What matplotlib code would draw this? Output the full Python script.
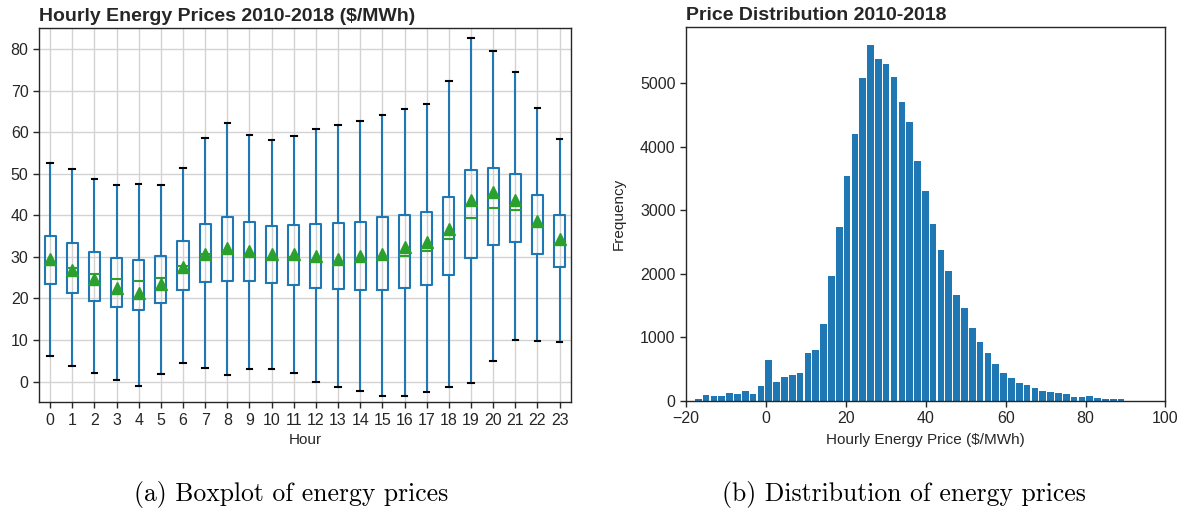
import numpy as np
import matplotlib
matplotlib.use("Agg")
import matplotlib.pyplot as plt

# ---------------- data ----------------
hours = list(range(24))
q1 = [23.4, 21.4, 19.5, 18.0, 17.1, 18.9, 22.1, 24.0, 24.3, 24.1, 23.7, 23.3,
      22.5, 22.2, 22.1, 22.1, 22.5, 23.3, 25.7, 29.7, 32.9, 33.5, 30.7, 27.6]
med = [28.1, 27.3, 25.9, 24.6, 24.1, 25.0, 27.8, 30.7, 31.3, 30.5, 29.7, 29.9,
       29.3, 28.7, 29.1, 29.9, 30.3, 31.3, 34.3, 39.3, 41.8, 41.2, 37.3, 33.1]
q3 = [35.1, 33.3, 31.1, 29.8, 29.2, 30.3, 33.7, 37.9, 39.5, 38.3, 37.5, 37.7,
      37.9, 38.1, 38.5, 39.5, 40.0, 40.9, 44.4, 50.9, 51.5, 50.0, 44.8, 40.0]
whis_lo = [6.2, 3.7, 2.1, 0.4, -1.1, 1.8, 4.5, 3.3, 1.6, 2.9, 3.1, 2.0,
           -0.2, -1.3, -2.2, -3.4, -3.4, -2.6, -1.4, -0.3, 5.0, 9.9, 9.8, 9.6]
whis_hi = [52.5, 51.2, 48.7, 47.4, 47.5, 47.2, 51.4, 58.7, 62.2, 59.3, 58.1, 59.1,
           60.7, 61.8, 62.8, 64.2, 65.6, 66.9, 72.3, 82.6, 79.6, 74.4, 65.9, 58.4]
means = [29.4, 26.9, 24.6, 22.6, 21.4, 23.4, 27.6, 30.6, 32.1, 31.5, 30.8, 30.6,
         30.2, 29.6, 30.1, 30.7, 32.3, 33.5, 36.6, 43.7, 45.5, 43.7, 38.6, 34.3]

hist_first_edge = -17.92
hist_bin_width = 1.96
hist_counts = [26, 90, 70, 80, 120, 105, 160, 110, 230,
               640, 290, 380, 400, 430, 750, 805, 1205, 1963, 2742,
               3532, 4195, 5084, 5600, 5374, 5300, 5095, 4700, 4384, 3774, 3300,
               2784, 2379, 2037, 1663, 1453, 1142, 926, 747, 579, 437, 353, 274,
               242, 200, 153, 132, 116, 105, 63, 58, 68, 37, 32, 21, 21]

# ---------------- style ----------------
TXT = "#262626"
plt.rcParams["font.family"] = ["Liberation Sans", "DejaVu Sans"]
plt.rcParams["text.color"] = TXT
plt.rcParams["axes.labelcolor"] = TXT
plt.rcParams["xtick.color"] = TXT
plt.rcParams["ytick.color"] = TXT
plt.rcParams["axes.edgecolor"] = TXT

BLUE = "#1f77b4"
GREEN = "#2ca02c"

fig = plt.figure(figsize=(11.85, 5.14), dpi=100)
ax1 = fig.add_axes([0.0329, 0.2173, 0.4487, 0.7276])
ax2 = fig.add_axes([0.5789, 0.2204, 0.4046, 0.7265])

# ---------------- boxplot ----------------
stats = []
for i, h in enumerate(hours):
    stats.append(dict(label=str(h), q1=q1[i], med=med[i], q3=q3[i],
                      whislo=whis_lo[i], whishi=whis_hi[i], mean=means[i],
                      fliers=[]))
ax1.bxp(stats, positions=np.arange(1, 25), widths=0.5, showmeans=True,
        showfliers=False,
        boxprops=dict(color=BLUE, linewidth=1.5),
        whiskerprops=dict(color=BLUE, linewidth=1.5),
        capprops=dict(color="k", linewidth=1.5),
        medianprops=dict(color=GREEN, linewidth=1.5),
        meanprops=dict(marker="^", markerfacecolor=GREEN, markeredgecolor=GREEN,
                       markersize=8))
ax1.set_xlim(0.5, 24.5)
ax1.set_ylim(-5, 85)
ax1.set_yticks(range(0, 81, 10))
ax1.grid(True, color="#d3d3d3", linewidth=1.0)
ax1.set_axisbelow(True)
ax1.set_xlabel("Hour", fontsize=11, labelpad=4)
ax1.set_title("Hourly Energy Prices 2010-2018 ($/MWh)", loc="left",
              fontsize=14, fontweight="bold", pad=5)

# ---------------- histogram ----------------
n_bins = len(hist_counts)
edges = hist_first_edge + hist_bin_width * np.arange(n_bins + 1)
centers = (edges[:-1] + edges[1:]) / 2
ax2.hist(centers, bins=edges, weights=hist_counts, color=BLUE, rwidth=0.85)
ax2.set_xlim(-20, 100)
ax2.set_xticks([-20, 0, 20, 40, 60, 80, 100])
ax2.set_xlabel("Hourly Energy Price ($/MWh)", fontsize=11, labelpad=5)
ax2.set_ylabel("Frequency", fontsize=11, labelpad=10)
ax2.set_title("Price Distribution 2010-2018", loc="left",
              fontsize=14, fontweight="bold", pad=5)

for ax in (ax1, ax2):
    ax.tick_params(labelsize=11.5, length=4, width=1, direction="out")
    for s in ax.spines.values():
        s.set_linewidth(1.0)

# ---------------- captions ----------------
fig.text(291 / 1185, 1 - 494 / 514, "(a) Boxplot of energy prices",
         family="cmr10", fontsize=18.5, ha="center", va="center", color="black")
fig.text(904 / 1185, 1 - 494 / 514, "(b) Distribution of energy prices",
         family="cmr10", fontsize=18.5, ha="center", va="center", color="black")

fig.savefig("out.png", dpi=100)
